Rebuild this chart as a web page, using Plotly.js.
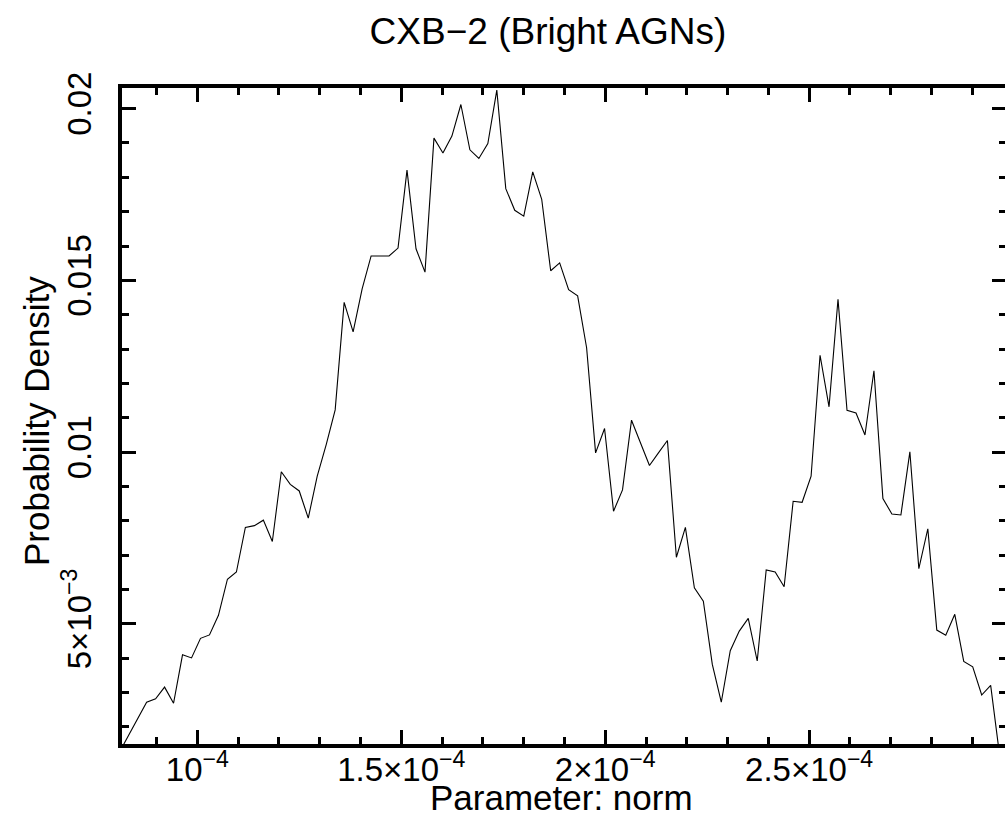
<!DOCTYPE html>
<html>
<head>
<meta charset="utf-8">
<script src="https://cdn.plot.ly/plotly-3.0.1.min.js"></script>
<style>
html,body{margin:0;padding:0;background:#fff;overflow:hidden;width:1005px;height:836px;}
#chart{width:1010px;height:836px;}
</style>
</head>
<body>
<div id="chart"></div>
<script>
// Parameter values (norm)
const normValues = [
  8.095e-5, 8.316e-5, 8.536e-5, 8.756e-5, 8.976e-5, 9.196e-5, 9.416e-5, 9.636e-5, 9.857e-5, 10.077e-5,
  10.297e-5, 10.517e-5, 10.737e-5, 10.957e-5, 11.177e-5, 11.398e-5, 11.618e-5, 11.838e-5, 12.058e-5, 12.278e-5,
  12.498e-5, 12.719e-5, 12.939e-5, 13.159e-5, 13.379e-5, 13.599e-5, 13.819e-5, 14.040e-5, 14.260e-5, 14.480e-5,
  14.700e-5, 14.920e-5, 15.140e-5, 15.361e-5, 15.581e-5, 15.801e-5, 16.021e-5, 16.241e-5, 16.461e-5, 16.682e-5,
  16.902e-5, 17.122e-5, 17.342e-5, 17.562e-5, 17.782e-5, 18.003e-5, 18.223e-5, 18.443e-5, 18.663e-5, 18.883e-5,
  19.103e-5, 19.324e-5, 19.544e-5, 19.764e-5, 19.984e-5, 20.204e-5, 20.424e-5, 20.645e-5, 20.865e-5, 21.085e-5,
  21.305e-5, 21.525e-5, 21.745e-5, 21.966e-5, 22.186e-5, 22.406e-5, 22.626e-5, 22.846e-5, 23.066e-5, 23.287e-5,
  23.507e-5, 23.727e-5, 23.947e-5, 24.167e-5, 24.387e-5, 24.608e-5, 24.828e-5, 25.048e-5, 25.268e-5, 25.488e-5,
  25.708e-5, 25.929e-5, 26.149e-5, 26.369e-5, 26.589e-5, 26.809e-5, 27.029e-5, 27.250e-5, 27.470e-5, 27.690e-5,
  27.910e-5, 28.130e-5, 28.350e-5, 28.571e-5, 28.791e-5, 29.011e-5, 29.231e-5, 29.451e-5, 29.672e-5
];

// Probability density values
const density = [
  0.00128, 0.00176, 0.00224, 0.00272, 0.00282, 0.00316, 0.00269, 0.00410, 0.00401, 0.00458,
  0.00468, 0.00525, 0.00630, 0.00651, 0.00781, 0.00786, 0.00802, 0.00740, 0.00943, 0.00906,
  0.00887, 0.00808, 0.00930, 0.01022, 0.01123, 0.01436, 0.01350, 0.01475, 0.01571, 0.01572,
  0.01571, 0.01594, 0.01821, 0.01592, 0.01524, 0.01914, 0.01871, 0.01920, 0.02012, 0.01880,
  0.01855, 0.01898, 0.02054, 0.01767, 0.01704, 0.01687, 0.01816, 0.01736, 0.01528, 0.01551,
  0.01473, 0.01455, 0.01304, 0.00998, 0.01069, 0.00828, 0.00890, 0.01093, 0.01025, 0.00961,
  0.00998, 0.01034, 0.00694, 0.00781, 0.00605, 0.00566, 0.00382, 0.00272, 0.00422, 0.00479,
  0.00516, 0.00392, 0.00657, 0.00651, 0.00608, 0.00857, 0.00854, 0.00930, 0.01282, 0.01132,
  0.01445, 0.01122, 0.01114, 0.01050, 0.01237, 0.00865, 0.00820, 0.00817, 0.01001, 0.00661,
  0.00777, 0.00482, 0.00467, 0.00528, 0.00391, 0.00375, 0.00293, 0.00321, 0.00116
];

const xTickVals = [1e-4, 1.5e-4, 2e-4, 2.5e-4];
const xTickText = ['10<sup>−4</sup>', '1.5×10<sup>−4</sup>', '2×10<sup>−4</sup>', '2.5×10<sup>−4</sup>'];
const yTickVals = [0.005, 0.01, 0.015, 0.02];
const yTickText = ['5×10<sup>−3</sup>', '0.01', '0.015', '0.02'];

const chartTitle = 'CXB−2 (Bright AGNs)';
const xTitle = 'Parameter: norm';
const yTitle = 'Probability Density';

const FONT = 'Liberation Sans, Arial, Helvetica, sans-serif';

const trace = {
  x: normValues,
  y: density,
  type: 'scatter',
  mode: 'lines',
  line: {color: '#000', width: 1.1},
  hoverinfo: 'x+y'
};

const axisCommon = {
  showline: true,
  linecolor: '#000',
  linewidth: 4,
  mirror: 'allticks',
  ticks: 'inside',
  ticklen: 14,
  tickwidth: 3,
  tickcolor: '#000',
  showgrid: false,
  zeroline: false,
  tickmode: 'array',
  tickfont: {family: FONT, size: 33, color: '#000'}
};

const layout = {
  width: 1010,
  height: 836,
  margin: {l: 122, r: 4, t: 88, b: 92},
  paper_bgcolor: '#fff',
  plot_bgcolor: '#fff',
  showlegend: false,
  font: {family: FONT, color: '#000'},
  title: {
    text: chartTitle,
    font: {family: FONT, size: 37, color: '#000'},
    x: 548/1010, xref: 'container', xanchor: 'center',
    y: 1 - 31/836, yref: 'container', yanchor: 'middle'
  },
  xaxis: Object.assign({}, axisCommon, {
    range: [8.152e-5, 2.9827e-4],
    tickvals: xTickVals,
    ticktext: xTickText,
    ticklabelstandoff: -7,
    minor: {dtick: 1e-5, tick0: 0, ticks: 'inside', ticklen: 7, tickwidth: 3, tickcolor: '#000', showgrid: false}
  }),
  yaxis: Object.assign({}, axisCommon, {
    range: [0.001504, 0.0206],
    tickvals: yTickVals,
    ticktext: yTickText,
    tickangle: -90,
    ticklabelstandoff: 14,
    minor: {dtick: 0.001, tick0: 0, ticks: 'inside', ticklen: 7, tickwidth: 3, tickcolor: '#000', showgrid: false}
  }),
  annotations: [
    {
      text: xTitle, xref: 'paper', yref: 'paper',
      x: (561 - 122) / 884, y: (744 - 797) / 656,
      xanchor: 'center', yanchor: 'middle', showarrow: false,
      font: {family: FONT, size: 35, color: '#000'}
    },
    {
      text: yTitle, xref: 'paper', yref: 'paper',
      x: (37 - 122) / 884, y: (744 - 421) / 656,
      xanchor: 'center', yanchor: 'middle', textangle: -90, showarrow: false,
      font: {family: FONT, size: 35, color: '#000'}
    }
  ]
};

Plotly.newPlot('chart', [trace], layout, {displayModeBar: false, staticPlot: true});
</script>
</body>
</html>
